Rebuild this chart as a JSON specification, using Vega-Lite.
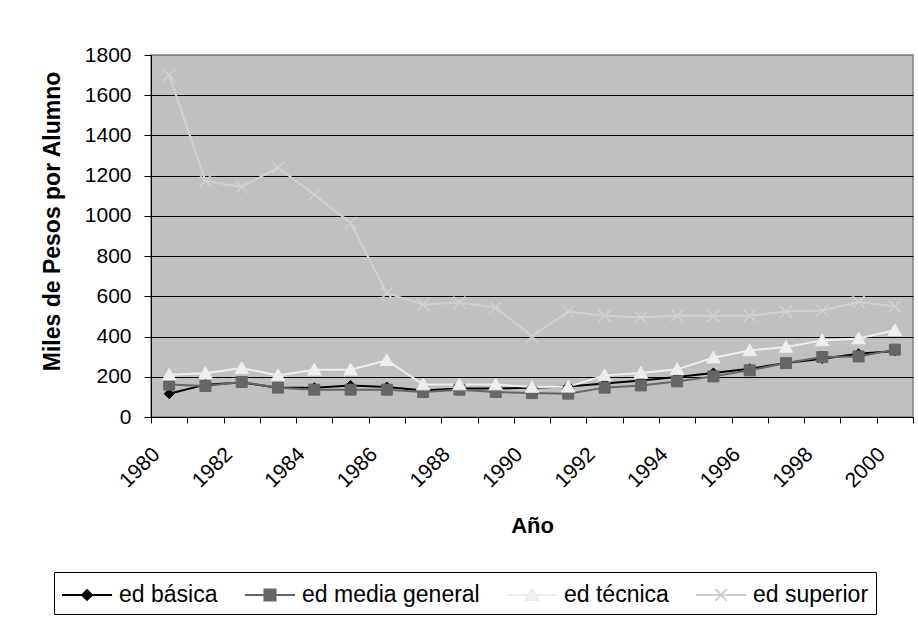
{
  "$schema": "https://vega.github.io/schema/vega-lite/v6.json",
  "autosize": {"type": "none"},
  "width": 762,
  "height": 362,
  "padding": {"left": 151, "top": 55, "right": 5, "bottom": 202},
  "background": "white",
  "config": {
    "font": "Liberation Sans",
    "view": {"fill": "#c0c0c0", "stroke": "#808080", "strokeWidth": 1.5},
    "axis": {"labelFont": "Liberation Sans", "titleFont": "Liberation Sans", "labelColor": "black", "titleColor": "black", "domainColor": "black", "tickColor": "black"},
    "legend": {
      "orient": "none", "legendX": -97, "legendY": 517, "direction": "horizontal",
      "strokeColor": "black", "fillColor": "white", "padding": 7, "columnPadding": 22,
      "labelFontSize": 23, "labelFont": "Liberation Sans", "labelColor": "black", "labelOffset": 16, "labelLimit": 400,
      "symbolSize": 900, "symbolOffset": 10, "symbolStrokeWidth": 2, "symbolOpacity": 1
    }
  },
  "data": {"values": [
    {"anio": 1980, "serie": "ed básica", "valor": 116}, {"anio": 1980, "serie": "ed media general", "valor": 161}, {"anio": 1980, "serie": "ed técnica", "valor": 210}, {"anio": 1980, "serie": "ed superior", "valor": 1700},
    {"anio": 1981, "serie": "ed básica", "valor": 161}, {"anio": 1981, "serie": "ed media general", "valor": 154}, {"anio": 1981, "serie": "ed técnica", "valor": 218}, {"anio": 1981, "serie": "ed superior", "valor": 1174},
    {"anio": 1982, "serie": "ed básica", "valor": 171}, {"anio": 1982, "serie": "ed media general", "valor": 174}, {"anio": 1982, "serie": "ed técnica", "valor": 243}, {"anio": 1982, "serie": "ed superior", "valor": 1144},
    {"anio": 1983, "serie": "ed básica", "valor": 146}, {"anio": 1983, "serie": "ed media general", "valor": 146}, {"anio": 1983, "serie": "ed técnica", "valor": 207}, {"anio": 1983, "serie": "ed superior", "valor": 1240},
    {"anio": 1984, "serie": "ed básica", "valor": 146}, {"anio": 1984, "serie": "ed media general", "valor": 136}, {"anio": 1984, "serie": "ed técnica", "valor": 235}, {"anio": 1984, "serie": "ed superior", "valor": 1106},
    {"anio": 1985, "serie": "ed básica", "valor": 157}, {"anio": 1985, "serie": "ed media general", "valor": 136}, {"anio": 1985, "serie": "ed técnica", "valor": 235}, {"anio": 1985, "serie": "ed superior", "valor": 965},
    {"anio": 1986, "serie": "ed básica", "valor": 149}, {"anio": 1986, "serie": "ed media general", "valor": 136}, {"anio": 1986, "serie": "ed técnica", "valor": 282}, {"anio": 1986, "serie": "ed superior", "valor": 616},
    {"anio": 1987, "serie": "ed básica", "valor": 132}, {"anio": 1987, "serie": "ed media general", "valor": 124}, {"anio": 1987, "serie": "ed técnica", "valor": 161}, {"anio": 1987, "serie": "ed superior", "valor": 560},
    {"anio": 1988, "serie": "ed básica", "valor": 142}, {"anio": 1988, "serie": "ed media general", "valor": 136}, {"anio": 1988, "serie": "ed técnica", "valor": 161}, {"anio": 1988, "serie": "ed superior", "valor": 569},
    {"anio": 1989, "serie": "ed básica", "valor": 142}, {"anio": 1989, "serie": "ed media general", "valor": 124}, {"anio": 1989, "serie": "ed técnica", "valor": 161}, {"anio": 1989, "serie": "ed superior", "valor": 544},
    {"anio": 1990, "serie": "ed básica", "valor": 146}, {"anio": 1990, "serie": "ed media general", "valor": 119}, {"anio": 1990, "serie": "ed técnica", "valor": 149}, {"anio": 1990, "serie": "ed superior", "valor": 401},
    {"anio": 1991, "serie": "ed básica", "valor": 152}, {"anio": 1991, "serie": "ed media general", "valor": 116}, {"anio": 1991, "serie": "ed técnica", "valor": 150}, {"anio": 1991, "serie": "ed superior", "valor": 525},
    {"anio": 1992, "serie": "ed básica", "valor": 166}, {"anio": 1992, "serie": "ed media general", "valor": 146}, {"anio": 1992, "serie": "ed técnica", "valor": 207}, {"anio": 1992, "serie": "ed superior", "valor": 504},
    {"anio": 1993, "serie": "ed básica", "valor": 182}, {"anio": 1993, "serie": "ed media general", "valor": 157}, {"anio": 1993, "serie": "ed técnica", "valor": 219}, {"anio": 1993, "serie": "ed superior", "valor": 496},
    {"anio": 1994, "serie": "ed básica", "valor": 199}, {"anio": 1994, "serie": "ed media general", "valor": 177}, {"anio": 1994, "serie": "ed técnica", "valor": 237}, {"anio": 1994, "serie": "ed superior", "valor": 504},
    {"anio": 1995, "serie": "ed básica", "valor": 219}, {"anio": 1995, "serie": "ed media general", "valor": 202}, {"anio": 1995, "serie": "ed técnica", "valor": 295}, {"anio": 1995, "serie": "ed superior", "valor": 504},
    {"anio": 1996, "serie": "ed básica", "valor": 240}, {"anio": 1996, "serie": "ed media general", "valor": 232}, {"anio": 1996, "serie": "ed técnica", "valor": 331}, {"anio": 1996, "serie": "ed superior", "valor": 504},
    {"anio": 1997, "serie": "ed básica", "valor": 268}, {"anio": 1997, "serie": "ed media general", "valor": 268}, {"anio": 1997, "serie": "ed técnica", "valor": 348}, {"anio": 1997, "serie": "ed superior", "valor": 525},
    {"anio": 1998, "serie": "ed básica", "valor": 290}, {"anio": 1998, "serie": "ed media general", "valor": 298}, {"anio": 1998, "serie": "ed técnica", "valor": 381}, {"anio": 1998, "serie": "ed superior", "valor": 530},
    {"anio": 1999, "serie": "ed básica", "valor": 315}, {"anio": 1999, "serie": "ed media general", "valor": 301}, {"anio": 1999, "serie": "ed técnica", "valor": 390}, {"anio": 1999, "serie": "ed superior", "valor": 572},
    {"anio": 2000, "serie": "ed básica", "valor": 328}, {"anio": 2000, "serie": "ed media general", "valor": 335}, {"anio": 2000, "serie": "ed técnica", "valor": 431}, {"anio": 2000, "serie": "ed superior", "valor": 550}
  ]},
  "encoding": {
    "x": {
      "field": "anio", "type": "ordinal", "bandPosition": 0.5,
      "scale": {"type": "band", "paddingInner": 0, "paddingOuter": 0},
      "axis": {
        "title": "Año", "titleFontSize": 22, "titleFontWeight": "bold", "titleY": 108, "titleBaseline": "middle",
        "labelAngle": -45, "labelAlign": "right", "labelBaseline": "middle", "labelFontSize": 21,
        "labelOffset": -13, "labelPadding": 28, "tickBand": "extent", "tickSize": 6,
        "labelExpr": "datum.value % 2 == 0 ? datum.label : ''", "grid": false, "labelOverlap": false
      }
    },
    "y": {
      "field": "valor", "type": "quantitative",
      "scale": {"domain": [0, 1800], "nice": false},
      "axis": {
        "title": "Miles de Pesos por Alumno", "titleFontSize": 23, "titleFontWeight": "bold", "titlePadding": 20, "titleY": 166,
        "values": [0, 200, 400, 600, 800, 1000, 1200, 1400, 1600, 1800], "format": "d",
        "labelFontSize": 21, "labelPadding": 13, "tickSize": 7, "grid": true,
        "gridColor": {"condition": {"test": "datum.value == 1800", "value": "#808080"}, "value": "black"},
        "gridOpacity": 1, "gridWidth": 1, "zindex": 0
      }
    }
  },
  "layer": [
    {
      "mark": {"type": "line", "strokeWidth": 2},
      "encoding": {
        "stroke": {"field": "serie", "type": "nominal", "title": null,
          "scale": {"domain": ["ed básica", "ed media general", "ed técnica", "ed superior"], "range": ["#000000", "#666666", "#eeeeee", "#d0d0d0"]}}
      }
    },
    {
      "transform": [{"filter": "datum.serie == 'ed básica'"}],
      "mark": {"type": "point", "filled": true, "opacity": 1, "shape": "M0,-1L1,0L0,1L-1,0Z", "size": 100, "fill": "#000000", "stroke": "#000000", "strokeWidth": 1}
    },
    {
      "transform": [{"filter": "datum.serie == 'ed media general'"}],
      "mark": {"type": "point", "filled": true, "opacity": 1, "shape": "M-1.1,-1.1H1.1V1.1H-1.1Z", "size": 100, "fill": "#666666", "stroke": "#666666", "strokeWidth": 1}
    },
    {
      "transform": [{"filter": "datum.serie == 'ed técnica'"}],
      "mark": {"type": "point", "filled": true, "opacity": 1, "shape": "M0,-1.3L1.35,1.05H-1.35Z", "size": 100, "fill": "#eeeeee", "stroke": "#eeeeee", "strokeWidth": 1}
    },
    {
      "transform": [{"filter": "datum.serie == 'ed superior'"}],
      "mark": {"type": "point", "filled": false, "opacity": 1, "shape": "M-1.2,-1.2L1.2,1.2M-1.2,1.2L1.2,-1.2", "size": 100, "stroke": "#d0d0d0", "strokeWidth": 1.5}
    },
    {
      "transform": [{"filter": "datum.valor < 0"}],
      "mark": {"type": "point", "filled": true, "opacity": 1},
      "encoding": {
        "color": {"field": "serie", "type": "nominal", "title": null,
          "scale": {"domain": ["ed básica", "ed media general", "ed técnica", "ed superior"], "range": ["#000000", "#666666", "#eeeeee", "#d0d0d0"]}},
        "stroke": {"field": "serie", "type": "nominal", "title": null,
          "scale": {"domain": ["ed básica", "ed media general", "ed técnica", "ed superior"], "range": ["#000000", "#666666", "#eeeeee", "#d0d0d0"]}},
        "shape": {"field": "serie", "type": "nominal", "title": null,
          "scale": {"domain": ["ed básica", "ed media general", "ed técnica", "ed superior"], "range": [
            "M-1.67,0H1.67M0,-0.33L0.33,0L0,0.33L-0.33,0Z",
            "M-1.67,0H1.67M-0.37,-0.37H0.37V0.37H-0.37Z",
            "M-1.67,0H1.67M0,-0.42L0.44,0.33H-0.44Z",
            "M-1.67,0H1.67M-0.38,-0.38L0.38,0.38M-0.38,0.38L0.38,-0.38"
          ]}}
      }
    }
  ]
}
